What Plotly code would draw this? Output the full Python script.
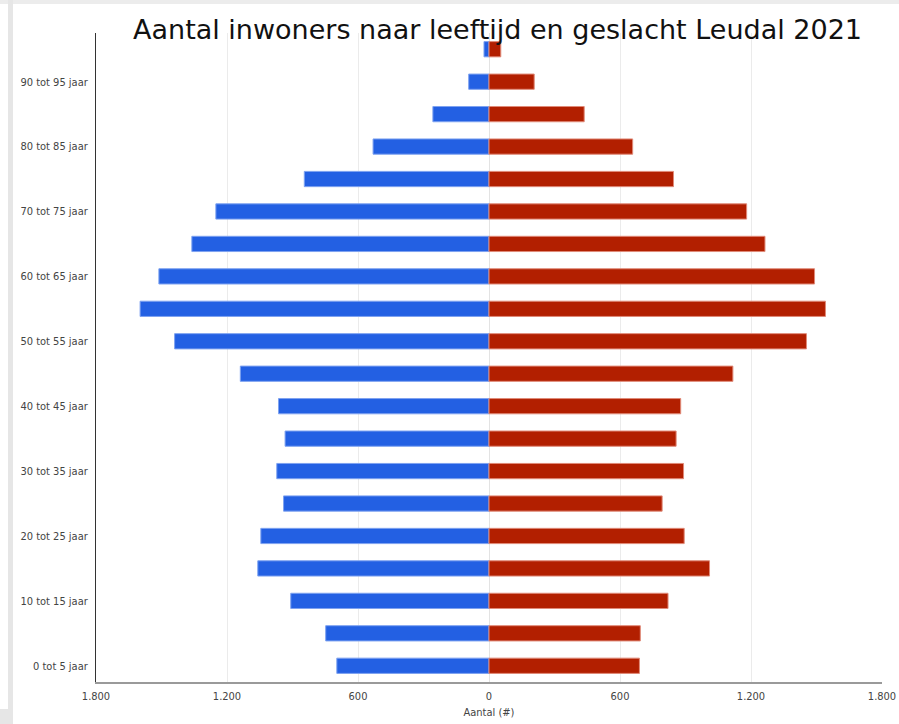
import plotly.graph_objects as go

# Age groups, youngest first (bottom of the pyramid)
age_groups = [
    "0 tot 5 jaar", "5 tot 10 jaar", "10 tot 15 jaar", "15 tot 20 jaar",
    "20 tot 25 jaar", "25 tot 30 jaar", "30 tot 35 jaar", "35 tot 40 jaar",
    "40 tot 45 jaar", "45 tot 50 jaar", "50 tot 55 jaar", "55 tot 60 jaar",
    "60 tot 65 jaar", "65 tot 70 jaar", "70 tot 75 jaar", "75 tot 80 jaar",
    "80 tot 85 jaar", "85 tot 90 jaar", "90 tot 95 jaar", "95 jaar of ouder",
]
# Population counts per age group
mannen = [697, 748, 908, 1059, 1045, 941, 972, 934, 964, 1139,
          1440, 1598, 1512, 1361, 1251, 846, 531, 257, 93, 23]
vrouwen = [689, 693, 820, 1010, 894, 793, 891, 857, 878, 1117,
           1454, 1541, 1491, 1264, 1180, 845, 658, 436, 207, 54]

# Only every other age group gets a tick label
labelled_groups = age_groups[0::2]
x_tickvals = [-1800, -1200, -600, 0, 600, 1200, 1800]
x_ticktext = ["1.800", "1.200", "600", "0", "600", "1.200", "1.800"]

title_text = "Aantal inwoners naar leeftijd en geslacht Leudal 2021"
x_title = "Aantal (#)"

W, H = 899, 724
ML, MR, MT, MB = 96, 17, 33, 42
PW, PH = W - ML - MR, H - MT - MB


def px_x(p):
    return (p - ML) / PW


def px_y(p):
    return 1 - (p - MT) / PH


fig = go.Figure()
fig.add_trace(go.Bar(
    y=age_groups, x=[-v for v in mannen], orientation="h", name="Mannen",
    marker=dict(color="#2360e3", line=dict(color="#7ea2f0", width=1)),
    customdata=mannen, hovertemplate="%{y}: %{customdata}<extra>Mannen</extra>",
))
fig.add_trace(go.Bar(
    y=age_groups, x=vrouwen, orientation="h", name="Vrouwen",
    marker=dict(color="#b21f00", line=dict(color="#e08a78", width=1)),
    hovertemplate="%{y}: %{x}<extra>Vrouwen</extra>",
))

tick_font = dict(family="DejaVu Sans Condensed, Liberation Sans Narrow, Roboto, sans-serif",
                 size=11, color="#444444")

fig.update_layout(
    width=W, height=H,
    margin=dict(l=ML, r=MR, t=MT, b=MB, pad=0, autoexpand=False),
    paper_bgcolor="white", plot_bgcolor="white",
    barmode="overlay", bargap=0.53,
    showlegend=False,
    xaxis=dict(
        range=[-1800, 1800], tickvals=x_tickvals, ticktext=x_ticktext,
        tickfont=tick_font, ticks="", ticklabelstandoff=3,
        showgrid=True, gridcolor="#ebebeb",
        zeroline=True, zerolinecolor="#e3e3e3", zerolinewidth=1,
        showline=True, linecolor="#9a9a9a", linewidth=2,
        title=dict(text=x_title, font=tick_font, standoff=6),
        automargin=False, fixedrange=True,
    ),
    yaxis=dict(
        type="category", categoryorder="array", categoryarray=age_groups,
        tickvals=labelled_groups, ticktext=labelled_groups,
        tickfont=tick_font, ticks="", ticklabelstandoff=5,
        showgrid=False, showline=True, linecolor="#333333", linewidth=1,
        range=[-0.5, len(age_groups) - 0.5], automargin=False, fixedrange=True,
    ),
    annotations=[dict(
        text=title_text, xref="paper", yref="paper",
        x=px_x(498), y=px_y(30), xanchor="center", yanchor="middle",
        showarrow=False,
        font=dict(family="DejaVu Sans, Verdana, sans-serif", size=27, color="#111111"),
    )],
    shapes=[
        # surrounding page frame
        dict(type="rect", xref="paper", yref="paper", layer="below",
             x0=px_x(0), x1=px_x(W), y0=px_y(0), y1=px_y(4),
             fillcolor="#ececec", line=dict(width=0)),
        dict(type="rect", xref="paper", yref="paper", layer="below",
             x0=px_x(8), x1=px_x(13), y0=px_y(0), y1=px_y(H),
             fillcolor="#e6e6e6", line=dict(width=0)),
        dict(type="rect", xref="paper", yref="paper", layer="below",
             x0=px_x(0), x1=px_x(13), y0=px_y(709), y1=px_y(H),
             fillcolor="#e6e6e6", line=dict(width=0)),
    ],
)

fig.write_html("out.html")
